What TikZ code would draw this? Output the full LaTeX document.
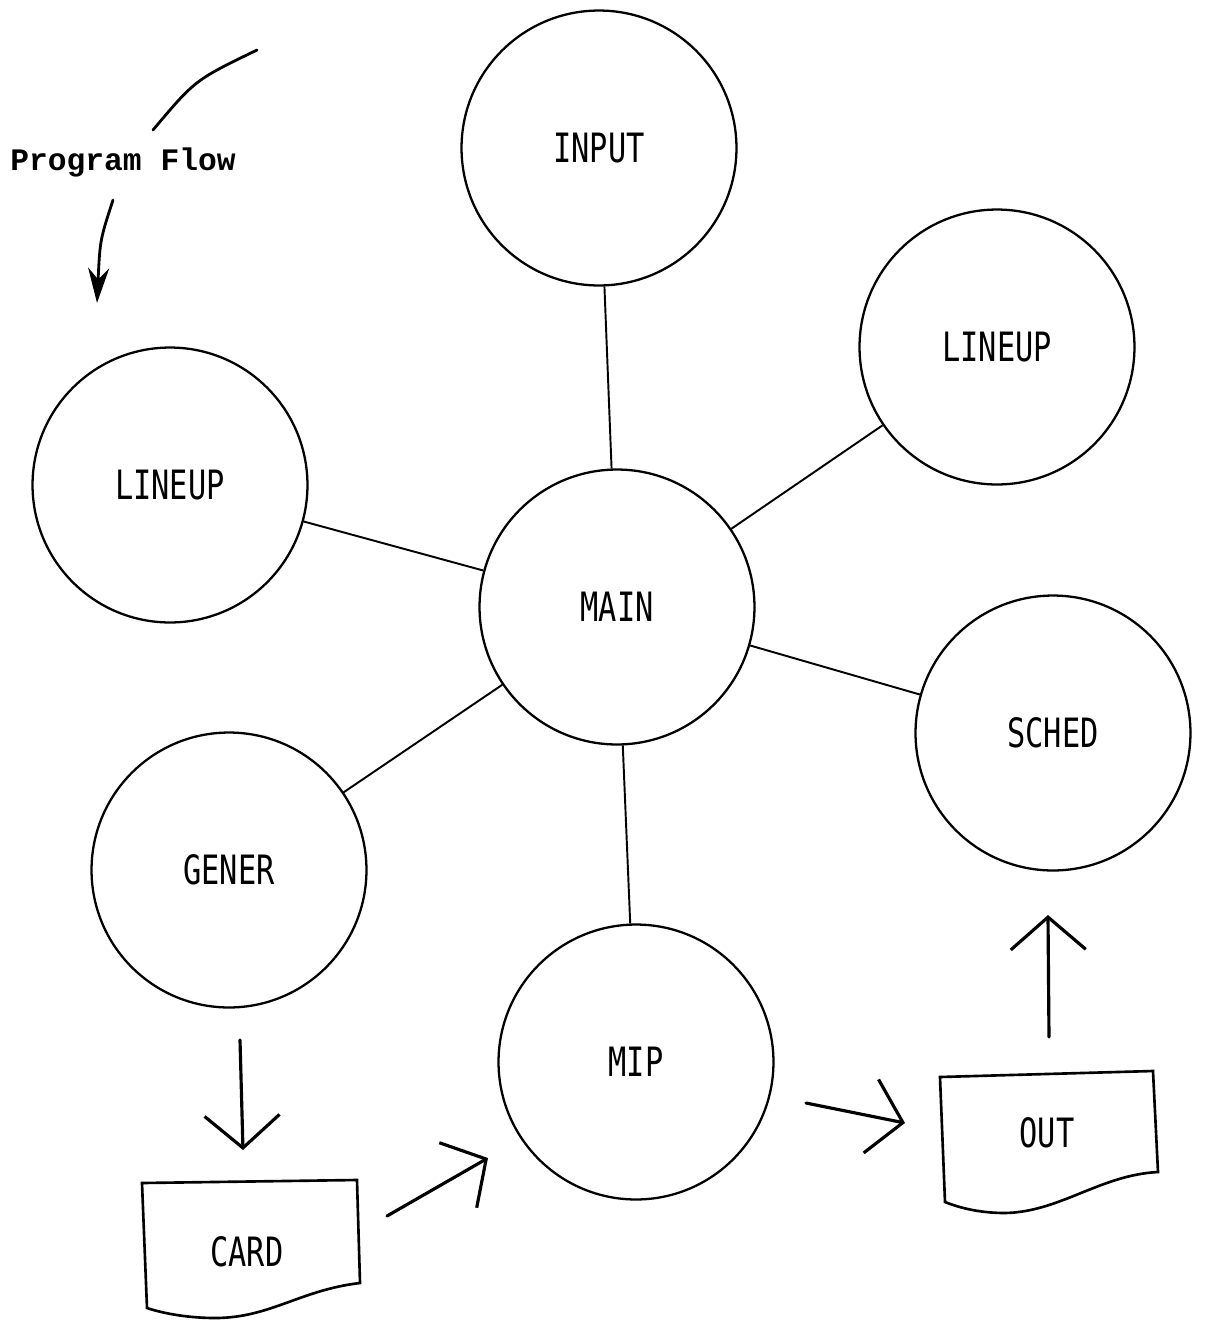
\documentclass[tikz,border=0pt]{standalone}
\usepackage{fontspec}
\usetikzlibrary{arrows.meta}
\newfontfamily\lblfont[FakeStretch=0.75]{DejaVu Sans Mono}
\newfontfamily\flowfont{Liberation Mono}
\begin{document}
\begin{tikzpicture}
	[x=0.02cm, y=-0.02cm,
	proc/.style={circle, draw, line width=1.3pt, minimum size=5.5cm, inner sep=0pt,
		font=\lblfont\fontsize{23}{26}\selectfont},
	doclabel/.style={font=\lblfont\fontsize{23}{26}\selectfont},
	link/.style={line width=1.1pt},
	docshape/.style={line width=1.5pt},
	flowarrow/.style={line width=1.8pt, line cap=round,
		-{Straight Barb[length=0.65cm, width=1.5cm, line width=1.8pt]}}]
	\useasboundingbox (0,0) rectangle (1205,1320);
	% the modules
	\node[proc] (input) at (599,148) {INPUT};
	\node[proc] (lineupr) at (997,347) {LINEUP};
	\node[proc] (lineupl) at (170,485) {LINEUP};
	\node[proc] (main) at (617,607) {MAIN};
	\node[proc] (sched) at (1053,733) {SCHED};
	\node[proc] (gener) at (229,870) {GENER};
	\node[proc] (mip) at (636,1062) {MIP};
	\draw[link] (input) -- (main);
	\draw[link] (lineupr) -- (main);
	\draw[link] (lineupl) -- (main);
	\draw[link] (sched) -- (main);
	\draw[link] (gener) -- (main);
	\draw[link] (mip) -- (main);
	% files
	\draw[docshape] (142,1183) -- (357,1180) -- (360,1283)
		.. controls (300,1290) and (270,1318) .. (215,1318)
		.. controls (190,1318) and (165,1314) .. (147,1308) -- cycle;
	\node[doclabel] (card) at (247,1252) {CARD};
	\draw[docshape] (940,1077) -- (1153,1071) -- (1158,1172)
		.. controls (1100,1175) and (1060,1212) .. (1005,1213)
		.. controls (980,1213) and (960,1208) .. (945,1202) -- cycle;
	\node[doclabel] (out) at (1047,1133) {OUT};
	% data flow
	\coordinate (g1) at (240,1040);
	\coordinate (g2) at (243,1150);
	\coordinate (c1) at (387,1216);
	\coordinate (c2) at (488,1158);
	\coordinate (m1) at (806,1103);
	\coordinate (m2) at (905,1123);
	\coordinate (o1) at (1049,1037);
	\coordinate (o2) at (1048,915);
	\draw[flowarrow] (g1) -- (g2);
	\draw[flowarrow] (c1) -- (c2);
	\draw[flowarrow] (m1) -- (m2);
	\draw[flowarrow] (o1) -- (o2);
	% legend
	\node[font=\flowfont\bfseries\fontsize{17.8}{20}\selectfont] (flow) at (123,162) {Program Flow};
	\coordinate (f1) at (153,130);
	\coordinate (f2) at (257,50);
	\coordinate (f3) at (113,200);
	\coordinate (f4) at (97,303);
	\draw[line width=1.6pt, line cap=round] (f1) .. controls (195,80) .. (f2);
	\draw[line width=1.6pt, line cap=round, -{Stealth[length=0.7cm, width=0.42cm]}]
		(f3) .. controls (100,240) .. (f4);
\end{tikzpicture}
\end{document}
